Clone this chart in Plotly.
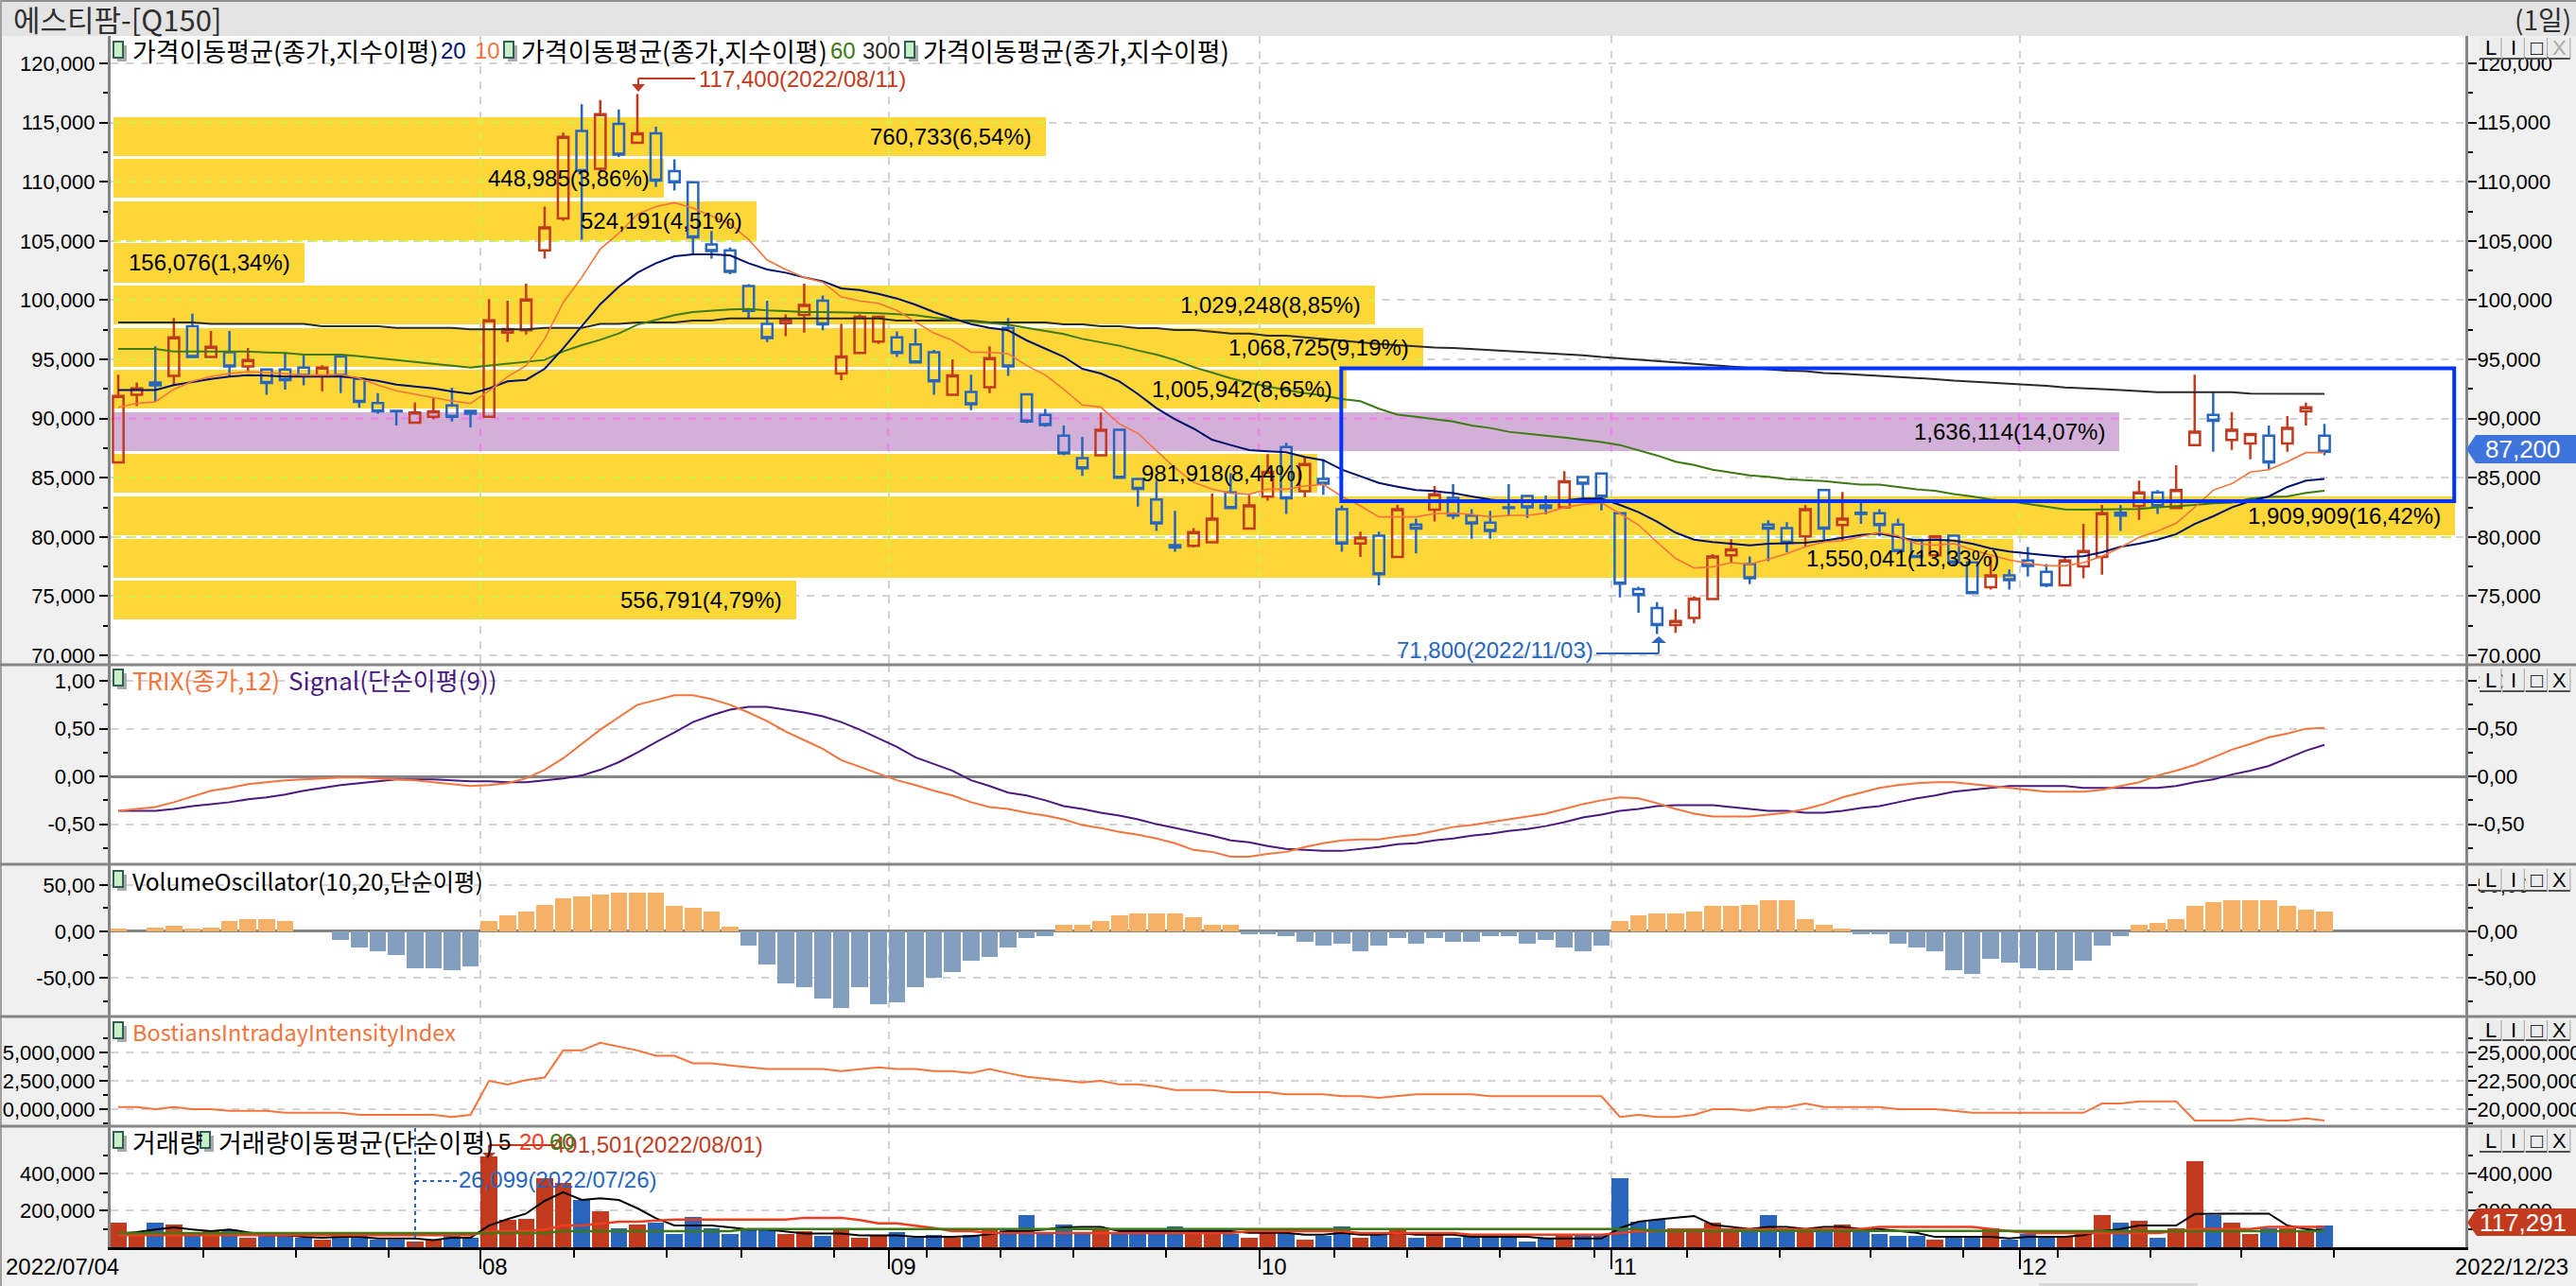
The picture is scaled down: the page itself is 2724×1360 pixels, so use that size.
# 에스티팜 daily chart: candles with volume profile, TRIX, VO, Bostian II and volume panels
import plotly.graph_objects as go

W, H = 2724, 1360
FONT = "'Noto Sans CJK KR', sans-serif"
NUM_FONT = "'Liberation Sans', 'Noto Sans CJK KR', sans-serif"

# ---------------------------------------------------------------------------
# Data
# ---------------------------------------------------------------------------
OPEN = [
    86300, 92000, 93050, 93600, 97800, 95200, 95600, 94400, 94150, 94150,
    94300, 93600, 95250, 93350, 91300, 90650, 89650, 90150, 91100, 90650,
    90150, 97250, 97450, 104200, 106900, 114300, 111100, 114900, 113300, 114100,
    110900, 109950, 104700, 104200, 101200, 98000, 98050, 98750, 99950, 93800,
    95550, 96500, 96850, 96250, 95600, 92000, 92250, 92650, 97650, 92050,
    90300, 88550, 86650, 86900, 89050, 84900, 83150, 79300, 79250, 79550,
    83750, 80700, 83400, 87600, 83850, 84900, 82350, 79450, 80100, 78300,
    81050, 82300, 83300, 81800, 81200, 82500, 83450, 82650, 82500, 85050,
    85350, 82000, 75600, 74000, 72550, 73150, 74750, 78450, 77700, 81050,
    80750, 80050, 83950, 81000, 82050, 82000, 81050, 79750, 78450, 80100,
    77850, 75750, 76750, 78000, 77050, 75900, 77500, 78300, 82050, 82600,
    83750, 82450, 87750, 90300, 88200, 87900, 88550, 87900, 90600, 88550,
]
HIGH = [
    93700, 93050, 96100, 98500, 98850, 97400, 97400, 95950, 94150, 95600,
    95400, 94500, 95450, 93400, 92150, 90650, 91350, 91750, 92600, 90650,
    100100, 99950, 101400, 107900, 114150, 116550, 116900, 116100, 117400, 114650,
    111900, 110000, 105850, 104450, 101350, 99950, 98800, 101400, 100400, 98000,
    98800, 98600, 97350, 97550, 95800, 95000, 93700, 96100, 98500, 92050,
    90800, 89400, 88450, 90500, 89050, 84900, 84750, 82200, 80750, 83650,
    85400, 83550, 87000, 87950, 86750, 86550, 82650, 80450, 80450, 82700,
    81550, 84300, 84450, 82350, 82200, 84450, 83450, 83500, 85550, 85050,
    85350, 82000, 75800, 74500, 73900, 75000, 78550, 79800, 78350, 81400,
    81250, 82700, 83950, 83800, 82850, 82350, 81550, 79750, 80100, 80100,
    77850, 78350, 77250, 79150, 77700, 78350, 81100, 82700, 82700, 84750,
    83950, 86050, 93700, 92200, 90550, 88700, 89400, 90200, 91350, 89550,
]
LOW = [
    86300, 91050, 91400, 92850, 95200, 95200, 93550, 94000, 92000, 92450,
    92800, 92300, 92150, 90900, 90400, 89400, 89650, 89950, 89750, 89250,
    90150, 96450, 97100, 103500, 106700, 105100, 110850, 112100, 113300, 109550,
    109250, 103850, 103500, 102200, 98500, 96450, 96950, 97250, 97450, 93250,
    95550, 96300, 95200, 94750, 92000, 92000, 90700, 92150, 93600, 89600,
    89300, 86900, 85150, 86900, 85000, 82550, 80500, 78750, 79100, 79550,
    82450, 80700, 83050, 81950, 83350, 83550, 78750, 78300, 75900, 78300,
    78600, 81300, 81500, 79850, 79850, 81750, 81600, 81900, 82500, 83250,
    82250, 74900, 73600, 71800, 71900, 72700, 74750, 77750, 76000, 77950,
    78700, 79100, 79500, 79650, 81100, 80050, 78800, 78300, 78450, 77500,
    75250, 75550, 75550, 76650, 75750, 75900, 76500, 76800, 80500, 81450,
    81950, 82450, 87750, 87200, 87350, 86550, 85700, 87200, 89400, 86900,
]
CLOSE = [
    91900, 92550, 92800, 96850, 95200, 96050, 94400, 94950, 93000, 93250,
    93600, 94300, 93600, 91400, 90600, 90600, 90500, 90600, 90150, 90400,
    98300, 97550, 100050, 106150, 113800, 110900, 115700, 112300, 114100, 110100,
    109950, 105300, 104150, 102400, 99100, 96800, 98350, 99600, 97950, 95250,
    98600, 98600, 95550, 94750, 93150, 93650, 91200, 95100, 94400, 89750,
    89450, 87050, 85800, 89050, 85000, 84050, 81150, 79100, 80400, 81550,
    82450, 82650, 85500, 83250, 86150, 84500, 79450, 79950, 76850, 82350,
    80700, 83600, 81800, 81150, 80500, 82450, 82500, 82450, 84700, 84500,
    83400, 76050, 75100, 72550, 72900, 74800, 78350, 78950, 76500, 80700,
    79500, 82350, 80700, 81550, 81950, 81000, 78800, 78300, 80050, 77850,
    75250, 76750, 76350, 77550, 75900, 78000, 78800, 82000, 81800, 83750,
    82600, 83950, 88900, 89800, 89050, 88700, 86300, 89200, 90950, 87200,
]

MA10 = [
    90950, 91280, 91410, 92470, 93140, 93540, 93800, 93940, 93880, 93800,
    93670, 93670, 93720, 93400, 92820, 92340, 92080, 91760, 91490, 91280,
    92340, 93540, 94470, 96730, 99800, 101920, 104320, 105650, 107250, 107910,
    108230, 107780, 107110, 106450, 105120, 103390, 102590, 101920, 101520, 100270,
    99930, 99740, 99130, 98200, 97210, 96600, 95610, 95590, 95480, 94470,
    93670, 92470, 91140, 90960, 89540, 88750, 87280, 85820, 84620, 84030,
    83690, 83610, 84030, 84030, 84300, 84430, 83420, 82620, 81690, 81690,
    81690, 81960, 82010, 81900, 81690, 81820, 81820, 82010, 82490, 82750,
    82890, 81960, 81020, 79560, 78180, 77380, 77480, 77830, 77700, 78100,
    78580, 79160, 79560, 79690, 80040, 80360, 80090, 79430, 79300, 79430,
    78900, 78500, 78040, 77780, 77560, 77560, 77830, 78360, 79110, 79960,
    80490, 81160, 82490, 83950, 84490, 85470, 85680, 86350, 87120, 87120,
]
MA20 = [
    92400, 92400, 92400, 92820, 93090, 93350, 93540, 93670, 93620, 93540,
    93540, 93540, 93540, 93400, 93190, 92870, 92710, 92550, 92290, 92080,
    92550, 93140, 93270, 94200, 95930, 97800, 99660, 101130, 102320, 103120,
    103710, 103870, 103870, 103790, 103120, 102590, 102320, 101920, 101600, 100990,
    100860, 100540, 100140, 99610, 99000, 98460, 97980, 97660, 97450, 96600,
    95930, 95220, 94200, 93800, 93130, 92070, 90880, 89940, 89150, 88210,
    87760, 87340, 87230, 87150, 86750, 86480, 85680, 85150, 84560, 84240,
    83950, 83870, 83690, 83420, 83150, 82970, 82970, 82970, 83070, 83230,
    83230, 82700, 82090, 81290, 80360, 79770, 79560, 79430, 79290, 79430,
    79480, 79510, 79690, 79910, 80170, 80280, 79960, 79690, 79770, 79690,
    79430, 79030, 78760, 78580, 78440, 78310, 78360, 78710, 79160, 79430,
    79770, 80230, 81100, 81740, 82490, 83020, 83420, 84220, 84750, 84890,
]
MA60 = [
    95880, 95880, 95880, 95670, 95670, 95670, 95670, 95670, 95590, 95540,
    95400, 95400, 95400, 95270, 95140, 94950, 94790, 94600, 94470, 94310,
    94470, 94600, 94740, 94950, 95670, 96200, 96650, 97190, 97930, 98330,
    98730, 99000, 99130, 99210, 99260, 99130, 99080, 99000, 99000, 98940,
    98940, 98890, 98780, 98730, 98520, 98330, 98200, 98060, 97930, 97660,
    97400, 97130, 96730, 96470, 96150, 95750, 95400, 94950, 94340, 93880,
    93410, 93010, 92700, 92400, 92150, 91950, 91650, 91470, 90830, 90330,
    90150, 89940, 89750, 89410, 89200, 88880, 88690, 88560, 88400, 88210,
    88020, 87760, 87330, 86880, 86350, 86080, 85680, 85420, 85200, 85070,
    84880, 84800, 84720, 84560, 84410, 84410, 84220, 84010, 83900, 83610,
    83420, 83150, 83020, 82810, 82540, 82330, 82300, 82300, 82300, 82360,
    82490, 82570, 82700, 82840, 82890, 83240, 83370, 83420, 83710, 83900,
]
MA300 = [
    98120, 98120, 98120, 98120, 98120, 97990, 97990, 97990, 97990, 97990,
    97990, 97800, 97800, 97800, 97800, 97660, 97660, 97660, 97660, 97530,
    97530, 97530, 97530, 97660, 97660, 97660, 97990, 97990, 98120, 98120,
    98120, 98280, 98280, 98460, 98460, 98460, 98460, 98460, 98460, 98460,
    98460, 98460, 98280, 98280, 98280, 98280, 98280, 98120, 98120, 98120,
    98120, 97960, 97960, 97800, 97800, 97640, 97640, 97480, 97480, 97340,
    97180, 97180, 97000, 97000, 96850, 96700, 96540, 96400, 96300, 96200,
    96070, 96000, 95950, 95870, 95800, 95700, 95620, 95560, 95480, 95350,
    95200, 95100, 94950, 94850, 94750, 94620, 94500, 94420, 94300, 94200,
    94050, 94000, 93850, 93780, 93700, 93600, 93520, 93450, 93330, 93200,
    93120, 93050, 92950, 92880, 92760, 92620, 92520, 92480, 92400, 92300,
    92220, 92220, 92220, 92220, 92220, 92100, 92080, 92080, 92080, 92080,
]

TRIX = [
    -0.36, -0.34, -0.32, -0.27, -0.21, -0.15, -0.12, -0.08, -0.06, -0.04,
    -0.03, -0.02, -0.01, -0.01, -0.02, -0.03, -0.04, -0.06, -0.08, -0.10,
    -0.09, -0.07, -0.02, 0.07, 0.19, 0.34, 0.49, 0.62, 0.75, 0.80,
    0.85, 0.85, 0.81, 0.75, 0.67, 0.58, 0.47, 0.38, 0.29, 0.17,
    0.10, 0.03, -0.04, -0.09, -0.15, -0.20, -0.27, -0.32, -0.34, -0.38,
    -0.41, -0.45, -0.51, -0.54, -0.58, -0.61, -0.65, -0.70, -0.77, -0.79,
    -0.84, -0.84, -0.81, -0.79, -0.74, -0.70, -0.67, -0.66, -0.66, -0.63,
    -0.61, -0.57, -0.53, -0.51, -0.48, -0.45, -0.42, -0.39, -0.34, -0.29,
    -0.25, -0.22, -0.23, -0.28, -0.34, -0.39, -0.42, -0.42, -0.42, -0.40,
    -0.38, -0.34, -0.29, -0.22, -0.17, -0.12, -0.09, -0.07, -0.06, -0.06,
    -0.08, -0.10, -0.12, -0.14, -0.16, -0.16, -0.16, -0.14, -0.10, -0.06,
    0.01, 0.06, 0.12, 0.20, 0.28, 0.34, 0.41, 0.45, 0.50, 0.51,
]
SIGNAL = [
    -0.36, -0.36, -0.36, -0.34, -0.31, -0.29, -0.27, -0.24, -0.22, -0.19,
    -0.15, -0.12, -0.09, -0.07, -0.05, -0.03, -0.03, -0.03, -0.04, -0.05,
    -0.05, -0.06, -0.06, -0.04, -0.02, 0.01, 0.07, 0.15, 0.25, 0.36,
    0.46, 0.57, 0.64, 0.70, 0.73, 0.73, 0.70, 0.67, 0.63, 0.57,
    0.49, 0.40, 0.31, 0.20, 0.13, 0.06, -0.04, -0.10, -0.17, -0.20,
    -0.25, -0.31, -0.34, -0.38, -0.41, -0.45, -0.50, -0.54, -0.58, -0.62,
    -0.67, -0.69, -0.73, -0.76, -0.77, -0.78, -0.78, -0.76, -0.74, -0.71,
    -0.70, -0.67, -0.65, -0.62, -0.60, -0.57, -0.55, -0.52, -0.48, -0.43,
    -0.40, -0.36, -0.34, -0.31, -0.30, -0.30, -0.30, -0.32, -0.34, -0.36,
    -0.36, -0.38, -0.38, -0.36, -0.33, -0.31, -0.27, -0.23, -0.20, -0.16,
    -0.14, -0.12, -0.10, -0.10, -0.10, -0.10, -0.12, -0.12, -0.12, -0.12,
    -0.12, -0.10, -0.06, -0.03, 0.02, 0.06, 0.11, 0.19, 0.27, 0.33,
]

VOL_OSC = [
    2.6, 0, 4.3, 6.5, 2.6, 4.3, 10.9, 13, 13, 10.9,
    0, 0, -9, -17.4, -21.7, -25.6, -40, -40, -41.7, -37.8,
    10.9, 17, 21.3, 29, 35.7, 37.4, 39.6, 41.7, 41.7, 41.7,
    27.4, 25.2, 21.3, 4.8, -15.2, -35.6, -56, -60, -72.6, -82.6,
    -60, -78.7, -76.5, -60, -50, -43.9, -31.7, -27.8, -17.4, -7.4,
    -5.2, 7, 7, 10.9, 17, 19.1, 19.1, 19.1, 15.2, 7,
    7, -3, -3, -5.2, -11.3, -15.2, -13.5, -21.7, -15.2, -7.4,
    -13.5, -7.4, -11.3, -11.3, -5.2, -5.2, -13.5, -9, -17.4, -21.7,
    -15.2, 10.9, 17, 19.1, 19.1, 21.3, 27.4, 27.4, 29, 33.5,
    33.5, 13, 7, 3, -3, -3, -13.5, -17.4, -21.7, -41.7,
    -46, -29.6, -33.9, -40, -41.7, -41.7, -31.7, -15.2, -5.2, 7,
    9, 13, 27.4, 31.3, 33.5, 33.5, 33.5, 27.4, 23, 21.3,
]

BOSTIAN = [
    20.18, 20.18, 20.0, 20.18, 20.0, 20.0, 19.86, 19.86, 19.86, 19.68,
    19.68, 19.68, 19.68, 19.5, 19.5, 19.5, 19.5, 19.5, 19.32, 19.5,
    22.5, 22.18, 22.57, 22.79, 25.18, 25.18, 25.86, 25.54, 25.18, 24.71,
    24.71, 24.04, 24.04, 23.86, 23.68, 23.54, 23.54, 23.54, 23.54, 23.36,
    23.54, 23.68, 23.54, 23.54, 23.36, 23.36, 23.18, 23.54, 23.18, 22.86,
    22.68, 22.5, 22.36, 22.5, 22.18, 22.18, 22.0, 21.68, 21.68, 21.68,
    21.5, 21.5, 21.5, 21.32, 21.32, 21.32, 21.14, 21.14, 21.0, 21.14,
    21.32, 21.32, 21.32, 21.32, 21.14, 21.14, 21.14, 21.14, 21.14, 21.14,
    21.14, 19.32, 19.5, 19.32, 19.32, 19.5, 20.0, 20.0, 19.86, 20.18,
    20.18, 20.5, 20.18, 20.18, 20.18, 20.18, 20.0, 20.0, 20.0, 19.86,
    19.68, 19.68, 19.68, 19.68, 19.68, 19.68, 19.68, 20.5, 20.5, 20.68,
    20.68, 20.68, 19.0, 19.0, 19.0, 19.18, 19.0, 19.0, 19.18, 19.0,
]

VOLUME = [
    134, 78, 134, 122, 78, 87, 96, 50, 70, 70,
    52, 43, 70, 70, 40, 40, 30, 40, 61, 50,
    491.5, 148, 155, 374, 351, 256, 197, 103, 122, 134,
    70, 165, 103, 70, 103, 103, 70, 87, 61, 103,
    54, 65, 84, 54, 65, 54, 65, 95, 95, 174,
    73, 123, 73, 95, 73, 73, 73, 114, 73, 73,
    73, 50, 92, 78, 40, 64, 113, 50, 82, 92,
    50, 70, 50, 70, 56, 61, 30, 45, 61, 61,
    71, 374, 139, 148, 103, 92, 134, 92, 92, 176,
    103, 103, 92, 123, 103, 71, 61, 61, 40, 61,
    61, 103, 40, 71, 61, 61, 71, 176, 134, 144,
    50, 103, 468, 177, 134, 71, 103, 103, 92, 117.3,
]
VOL_MA5 = [
    73, 82, 96, 108, 96, 87, 96, 82, 66, 66,
    56, 52, 56, 56, 47, 47, 47, 38, 52, 52,
    118, 153, 183, 252, 299, 257, 266, 257, 212, 157,
    118, 118, 118, 108, 96, 96, 87, 75, 75, 75,
    64, 64, 64, 56, 56, 56, 61, 70, 87, 87,
    96, 108, 110, 110, 88, 88, 88, 88, 88, 88,
    88, 78, 78, 78, 68, 68, 78, 68, 68, 78,
    68, 68, 68, 56, 56, 56, 56, 47, 47, 47,
    47, 104, 139, 151, 162, 170, 122, 110, 99, 110,
    110, 99, 110, 110, 99, 99, 87, 78, 56, 56,
    56, 56, 47, 56, 56, 56, 66, 87, 99, 118,
    118, 118, 181, 183, 183, 183, 183, 118, 99, 87,
]
VOL_MA20 = [
    66, 66, 66, 66, 66, 66, 66, 66, 66, 66,
    66, 66, 66, 66, 66, 66, 66, 66, 66, 66,
    87, 87, 87, 96, 118, 118, 130, 139, 139, 143,
    150, 150, 150, 150, 150, 150, 150, 160, 160, 160,
    148, 130, 130, 118, 104, 87, 87, 78, 78, 78,
    78, 78, 77, 77, 77, 77, 77, 77, 77, 77,
    77, 87, 87, 87, 87, 87, 87, 77, 77, 77,
    77, 77, 77, 68, 68, 68, 68, 68, 68, 68,
    68, 77, 87, 87, 96, 96, 96, 96, 99, 99,
    99, 99, 99, 99, 99, 110, 110, 110, 110, 110,
    110, 99, 87, 77, 77, 77, 77, 77, 77, 77,
    77, 87, 99, 99, 99, 99, 110, 110, 110, 110,
]
VOL_MA60 = [77] * 24 + [87] * 10 + [99] * 49 + [89] * 10 + [87] * 27

VP_PRICE = [113850, 110300, 106700, 103150, 99600, 96000, 92450, 88900, 85350, 81800, 78200, 74650]
VP_VOLUME = [760733, 448985, 524191, 156076, 1029248, 1068725, 1005942, 1636114, 981918, 1909909, 1550041, 556791]
VP_LABEL = ["760,733(6,54%)", "448,985(3,86%)", "524,191(4,51%)", "156,076(1,34%)", "1,029,248(8,85%)",
            "1,068,725(9,19%)", "1,005,942(8,65%)", "1,636,114(14,07%)", "981,918(8,44%)", "1,909,909(16,42%)",
            "1,550,041(13,33%)", "556,791(4,79%)"]

MONTH_POS = [19.55, 41.55, 61.55, 80.55, 102.55]
MONTH_LABEL = ["08", "09", "10", "11", "12"]
WEEK_POS = [4.6, 9.6, 14.6, 24.6, 29.6, 33.6, 38.6, 43.6, 47.6, 51.5, 56.5, 65.6, 69.5, 74.5, 79.6,
            84.6, 89.6, 94.5, 99.5, 104.6, 109.6, 114.5, 119.5]

RED = "#c23b1e"
BLUE = "#2866bd"
ORANGE = "#f4743b"
NAVY = "#00106e"
GREEN = "#3d7a14"
DARK = "#2a2a2a"
PURPLE = "#4a1a80"
GRID = "#d2d2d2"
SEP = "#858585"

n = len(CLOSE)
idx = list(range(n))
is_up = [c > o for o, c in zip(OPEN, CLOSE)]


def fx(x):
    return x / W


def fy(y):
    return 1 - y / H


X_RANGE = [-0.41, 126.6]
VP_RANGE = [-2314, 1918470]
X_DOM = [fx(117), fx(2607)]

fig = go.Figure()

# volume profile bars sit on the base subplot, everything else overlays them
fig.add_trace(go.Bar(
    x=VP_VOLUME, y=VP_PRICE, orientation="h", width=3280,
    marker=dict(color=["#d3b0d8" if i == 7 else "#fdd738" for i in range(12)], line_width=0),
    xaxis="x", yaxis="y", hoverinfo="skip",
))

# grid dashes that show through the profile bars
level_row = {115000: 0, 110000: 1, 105000: 2, 100000: 4, 95000: 5, 90000: 7, 85000: 8, 80000: 9, 75000: 11}
lime_x, lime_y, pink_x, pink_y = [], [], [], []
for price, row in level_row.items():
    tx, ty = (pink_x, pink_y) if row == 7 else (lime_x, lime_y)
    tx += [0, VP_VOLUME[row], None]
    ty += [price, price, None]
for m in MONTH_POS:
    xv = (125 + 19.6 * m - 120) * 771.4
    for row, (price, vol) in enumerate(zip(VP_PRICE, VP_VOLUME)):
        if xv <= vol:
            tx, ty = (pink_x, pink_y) if row == 7 else (lime_x, lime_y)
            tx += [xv, xv, None]
            ty += [price - 1640, price + 1640, None]
fig.add_trace(go.Scatter(x=lime_x, y=lime_y, mode="lines", xaxis="x", yaxis="y", hoverinfo="skip",
                         line=dict(color="#d4f24c", width=2, dash="8px,8px")))
fig.add_trace(go.Scatter(x=pink_x, y=pink_y, mode="lines", xaxis="x", yaxis="y", hoverinfo="skip",
                         line=dict(color="#f07ef0", width=2, dash="8px,8px")))

fig.add_trace(go.Candlestick(
    x=idx, open=OPEN, high=HIGH, low=LOW, close=CLOSE, xaxis="x2", yaxis="y2",
    increasing=dict(line=dict(color=RED, width=2.5), fillcolor="rgba(0,0,0,0)"),
    decreasing=dict(line=dict(color=BLUE, width=2.5), fillcolor="rgba(0,0,0,0)"),
    whiskerwidth=0, hoverinfo="skip",
))
for vals, col, lw in [(MA300, DARK, 2), (MA60, GREEN, 2), (MA20, NAVY, 2), (MA10, ORANGE, 1.6)]:
    fig.add_trace(go.Scatter(x=idx, y=vals, mode="lines", xaxis="x2", yaxis="y2",
                             line=dict(color=col, width=lw), hoverinfo="skip"))

# TRIX panel
fig.add_trace(go.Scatter(x=idx, y=SIGNAL, mode="lines", xaxis="x3", yaxis="y3",
                         line=dict(color=PURPLE, width=2), hoverinfo="skip"))
fig.add_trace(go.Scatter(x=idx, y=TRIX, mode="lines", xaxis="x3", yaxis="y3",
                         line=dict(color=ORANGE, width=2), hoverinfo="skip"))
fig.add_trace(go.Scatter(x=idx, y=TRIX, mode="lines", xaxis="x3", yaxis="y7",
                         line=dict(color="rgba(0,0,0,0)", width=0), hoverinfo="skip"))

# volume oscillator panel
fig.add_trace(go.Bar(x=idx, y=VOL_OSC, width=0.9, xaxis="x4", yaxis="y4", hoverinfo="skip",
                     marker=dict(color=["#f5b165" if v >= 0 else "#839fbf" for v in VOL_OSC], line_width=0)))
fig.add_trace(go.Scatter(x=idx, y=VOL_OSC, mode="lines", xaxis="x4", yaxis="y8",
                         line=dict(color="rgba(0,0,0,0)", width=0), hoverinfo="skip"))

# Bostian intraday intensity panel
fig.add_trace(go.Scatter(x=idx, y=[v * 1e6 for v in BOSTIAN], mode="lines", xaxis="x5", yaxis="y5",
                         line=dict(color=ORANGE, width=2), hoverinfo="skip"))
fig.add_trace(go.Scatter(x=idx, y=[v * 1e6 for v in BOSTIAN], mode="lines", xaxis="x5", yaxis="y9",
                         line=dict(color="rgba(0,0,0,0)", width=0), hoverinfo="skip"))

# volume panel
fig.add_trace(go.Bar(x=idx, y=[v * 1000 for v in VOLUME], width=0.9, xaxis="x6", yaxis="y6", hoverinfo="skip",
                     marker=dict(color=[RED if up else BLUE for up in is_up], line_width=0)))
for vals, col, lw in [(VOL_MA5, "#000000", 2), (VOL_MA20, "#f03c1e", 2.5), (VOL_MA60, GREEN, 2.5)]:
    fig.add_trace(go.Scatter(x=idx, y=[v * 1000 for v in vals], mode="lines", xaxis="x6", yaxis="y6",
                             line=dict(color=col, width=lw), hoverinfo="skip"))
fig.add_trace(go.Scatter(x=idx, y=[v * 1000 for v in VOLUME], mode="lines", xaxis="x6", yaxis="y10",
                         line=dict(color="rgba(0,0,0,0)", width=0), hoverinfo="skip"))


# ---------------------------------------------------------------------------
# Axes
# ---------------------------------------------------------------------------
def x_axis(anchor, **kw):
    d = dict(domain=X_DOM, range=X_RANGE, anchor=anchor, tickmode="array", tickvals=MONTH_POS,
             showticklabels=False, ticks="", showgrid=True, gridcolor=GRID, gridwidth=2,
             griddash="8px,8px", zeroline=False, showline=False, fixedrange=True, automargin=False)
    d.update(kw)
    return d


def y_axis(top, bottom, rng, side="left", **kw):
    d = dict(domain=[fy(bottom), fy(top)], range=rng, side=side, ticks="outside", ticklen=9,
             tickcolor="#000000", tickwidth=2, showline=True, linecolor=SEP, linewidth=3,
             showgrid=side == "left", gridcolor=GRID, gridwidth=2, griddash="8px,8px",
             zeroline=False, automargin=False, fixedrange=True,
             ticklabelstandoff=-4 if side == "right" else 0,
             tickfont=dict(family=NUM_FONT, size=22, color="#000000"))
    d.update(kw)
    return d


MAIN_RANGE = [69200, 122320]
TRIX_RANGE = [-0.92, 1.17]
VO_RANGE = [-91.8, 72.4]
BII_RANGE = [18.5e6, 28.17e6]
VOL_RANGE = [0, 658000]
main_ticks = [70000 + 5000 * i for i in range(11)]
minor = dict(ticks="outside", ticklen=5, tickcolor="#000000", tickmode="array", showgrid=False)
zero_line = dict(zeroline=True, zerolinecolor=SEP, zerolinewidth=3)
trix_ticks = dict(tickmode="array", tickvals=[1, 0.5, 0, -0.5], ticktext=["1,00", "0,50", "0,00", "-0,50"],
                  minor=dict(minor, tickvals=[0.75, 0.25, -0.25, -0.75]))
vo_ticks = dict(tickmode="array", tickvals=[50, 0, -50], ticktext=["50,00", "0,00", "-50,00"],
                minor=dict(minor, tickvals=[25, -25, -75]))
bii_ticks = dict(tickmode="array", tickvals=[25e6, 22.5e6, 20e6], ticktext=["25,000,000", "22,500,000", "20,000,000"],
                 minor=dict(minor, tickvals=[26.25e6, 23.75e6, 21.25e6, 18.75e6]))
vol_ticks = dict(tickmode="array", tickvals=[400000, 200000], ticktext=["400,000", "200,000"],
                 minor=dict(minor, tickvals=[100000, 300000, 500000]))
main_tick = dict(tickmode="array", tickvals=main_ticks, ticktext=[f"{v:,}" for v in main_ticks],
                 minor=dict(minor, tickvals=[72500 + 5000 * i for i in range(10)]))

fig.update_layout(
    width=W, height=H, margin=dict(l=0, r=0, t=0, b=0, pad=0),
    paper_bgcolor="#f0f0f0", plot_bgcolor="#ffffff", showlegend=False, boxgap=0.18,
    bargap=0, barmode="overlay", font=dict(family=FONT, size=26, color="#000000"),
    xaxis=dict(domain=X_DOM, range=VP_RANGE, anchor="y", visible=False, fixedrange=True, automargin=False),
    xaxis2=x_axis("y2", overlaying="x", rangeslider=dict(visible=False)),
    xaxis3=x_axis("y3"), xaxis4=x_axis("y4"), xaxis5=x_axis("y5"),
    xaxis6=x_axis("y6", ticks="outside", ticklen=20, tickcolor="#000000", tickwidth=2, showline=True,
                  linecolor="#000000", linewidth=3,
                  minor=dict(minor, ticklen=8, tickvals=WEEK_POS)),
    yaxis=y_axis(38, 703, MAIN_RANGE, **main_tick),
    yaxis2=y_axis(38, 703, MAIN_RANGE, side="right", overlaying="y", anchor="x2", **main_tick),
    yaxis3=y_axis(703, 914, TRIX_RANGE, anchor="x3", **trix_ticks, **zero_line),
    yaxis7=y_axis(703, 914, TRIX_RANGE, side="right", overlaying="y3", anchor="x3", **trix_ticks),
    yaxis4=y_axis(914, 1075, VO_RANGE, anchor="x4", **vo_ticks, **zero_line),
    yaxis8=y_axis(914, 1075, VO_RANGE, side="right", overlaying="y4", anchor="x4", **vo_ticks),
    yaxis5=y_axis(1075, 1191, BII_RANGE, anchor="x5", **bii_ticks),
    yaxis9=y_axis(1075, 1191, BII_RANGE, side="right", overlaying="y5", anchor="x5", **bii_ticks),
    yaxis6=y_axis(1191, 1319, VOL_RANGE, anchor="x6", **vol_ticks),
    yaxis10=y_axis(1191, 1319, VOL_RANGE, side="right", overlaying="y6", anchor="x6", **vol_ticks),
)

# ---------------------------------------------------------------------------
# Shapes and text (window chrome, callouts)
# ---------------------------------------------------------------------------
shapes = []
notes = []


def rect(x0, y0, x1, y1, fill, layer="above", line=None, lw=0):
    shapes.append(dict(type="rect", xref="paper", yref="paper", x0=fx(x0), x1=fx(x1), y0=fy(y0), y1=fy(y1),
                       fillcolor=fill, line=dict(color=line or fill, width=lw), layer=layer))


def seg(x0, y0, x1, y1, color, width=2, dash="solid", layer="above"):
    shapes.append(dict(type="line", xref="paper", yref="paper", x0=fx(x0), x1=fx(x1), y0=fy(y0), y1=fy(y1),
                       line=dict(color=color, width=width, dash=dash), layer=layer))


def tri(points, color):
    path = "M " + " L ".join(f"{fx(x)} {fy(y)}" for x, y in points) + " Z"
    shapes.append(dict(type="path", xref="paper", yref="paper", path=path, fillcolor=color,
                       line=dict(color=color, width=0), layer="above"))


def text(x, y, s, color="#000000", anchor="left", size=24, family=NUM_FONT):
    notes.append(dict(xref="paper", yref="paper", x=fx(x), y=fy(y), text=s, showarrow=False, xanchor=anchor,
                      yanchor="middle", font=dict(family=family, size=size, color=color), borderpad=0))


def icon(x, y):
    rect(x + 4, y - 6, x + 14, y + 11, "#ababab")
    rect(x, y - 10, x + 10, y + 7, "#c8efc8", line="#2f5f55", lw=2)


# title band and separators
rect(0, 0, W, 38, "#e4e4e4", layer="below")
rect(0, 0, W, 2, "#8f8f8f")
rect(2156, 1357, 2324, 1360, "#d8d8d8")
seg(1, 0, 1, 1360, "#a0a0a0", 2)
for yy in (703, 914, 1075, 1191):
    seg(0, yy, W, yy, SEP, 3)
text(13, 20, "에스티팜-[Q150]", "#303030", size=31, family=FONT)
text(2720, 20, "(1일)", "#303030", anchor="right", size=28, family=FONT)

# legends
icon(120, 54)
text(139, 54, "가격이동평균(종가,지수이평)", size=27, family=FONT)
text(465, 54, "20", NAVY)
text(501, 54, "10", ORANGE)
icon(533, 54)
text(550, 54, "가격이동평균(종가,지수이평)", size=27, family=FONT)
text(877, 54, "60", GREEN)
text(911, 54, "300", DARK)
icon(957, 54)
text(975, 54, "가격이동평균(종가,지수이평)", size=27, family=FONT)

icon(120, 718)
text(139, 718, "TRIX(종가,12)", ORANGE, size=26, family=FONT)
text(304, 718, "Signal(단순이평(9))", PURPLE, size=26, family=FONT)
icon(120, 931)
text(139, 931, "VolumeOscillator(10,20,단순이평)", size=24.5, family=FONT)
icon(120, 1091)
text(139, 1091, "BostiansIntradayIntensityIndex", ORANGE, size=23.5, family=FONT)

# volume callouts sit under the legend text
seg(439, 1193, 439, 1319, BLUE, 2, "4px,4px")
seg(439, 1249, 484, 1249, BLUE, 2, "4px,4px")
text(484, 1247, "26,099(2022/07/26)", BLUE)
seg(517, 1211, 586, 1211, RED, 2)
seg(517, 1211, 517, 1220, RED, 2)
tri([(510, 1219), (524, 1219), (517, 1226)], RED)
text(583, 1210, "491,501(2022/08/01)", RED)

icon(120, 1207)
text(139, 1207, "거래량", size=27, family=FONT)
icon(212, 1207)
text(230, 1207, "거래량이동평균(단순이평)", size=27, family=FONT)
text(526, 1207, "5")
text(548, 1207, "20", "#f03c1e")
text(580, 1207, "60", GREEN)

# high / low callouts
seg(675, 83, 735, 83, RED, 2)
seg(675, 83, 675, 92, RED, 2)
tri([(668, 89), (682, 89), (675, 97)], RED)
text(738, 83, "117,400(2022/08/11)", RED)
seg(1688, 691, 1754, 691, BLUE, 2)
seg(1754, 691, 1754, 678, BLUE, 2)
tri([(1746, 680), (1762, 680), (1754, 673)], BLUE)
text(1686, 687, "71,800(2022/11/03)", BLUE, anchor="right")

# volume profile labels
for price, vol, label in zip(VP_PRICE, VP_VOLUME, VP_LABEL):
    notes.append(dict(xref="x", yref="y", x=vol, y=price, text=label, showarrow=False, xanchor="right",
                      yanchor="middle", xshift=-13, font=dict(family=NUM_FONT, size=24, color="#000000")))

# month labels
for pos, label in zip(MONTH_POS, MONTH_LABEL):
    notes.append(dict(xref="x6", yref="paper", x=pos, y=fy(1339), text=label, showarrow=False, xanchor="left",
                      yanchor="middle", font=dict(family=NUM_FONT, size=24, color="#000000")))
text(5, 1339, "2022/07/04")
text(2717, 1339, "2022/12/23", anchor="right")

# highlighted box, on price coordinates
shapes.append(dict(type="rect", xref="x2", yref="y2", x0=65.97, x1=126.0, y0=83020, y1=94250,
                   line=dict(color="#0033ff", width=4), fillcolor="rgba(0,0,0,0)", layer="above"))

# last value tags
tri([(2608, 475), (2618, 460), (2724, 460), (2724, 490), (2618, 490)], "#3f74dc")
text(2668, 475, "87,200", "#ffffff", anchor="center", size=26)
tri([(2609, 1293), (2619, 1278), (2724, 1278), (2724, 1307), (2619, 1307)], RED)
text(2668, 1293, "117,291", "#ffffff", anchor="center", size=26)

# panel buttons
for top, h, x_col in [(40, 22, "#a8a8a8"), (707, 24, "#000000"), (919, 23, "#000000"), (1079, 21, "#000000"), (1194, 24, "#000000")]:
    for i, glyph in enumerate(["L", "I", "□", "X"]):
        x0 = 2622 + 24.3 * i
        rect(x0, top, x0 + 23, top + h, "#ececec")
        seg(x0, top + h, x0 + 23, top + h, "#505050", 2)
        seg(x0 + 23, top, x0 + 23, top + h, "#a0a0a0", 1)
        text(x0 + 11.5, top + h / 2, glyph, x_col if glyph == "X" else "#000000", anchor="center", size=22)

fig.update_layout(shapes=shapes, annotations=notes)

fig.write_html("out.html", config={"displayModeBar": False}, post_script="document.body.style.margin='0';")
